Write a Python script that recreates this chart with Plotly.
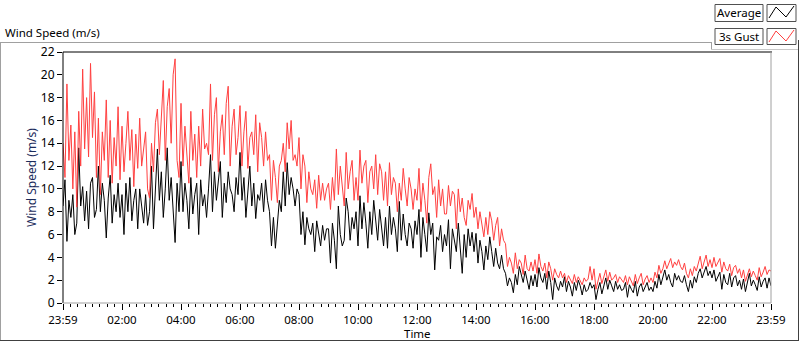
import plotly.graph_objects as go

# ---------------- data ----------------
minutes = list(range(0, 1441, 4))  # time since 23:59, one sample every 4 min
tick_minutes = [0, 120, 240, 360, 480, 600, 720, 840, 960, 1080, 1200, 1320, 1440]
tick_labels = ["23:59", "02:00", "04:00", "06:00", "08:00", "10:00", "12:00",
               "14:00", "16:00", "18:00", "20:00", "22:00", "23:59"]
minor_tick_minutes = list(range(0, 1441, 15))
y_ticks = [0, 2, 4, 6, 8, 10, 12, 14, 16, 18, 20, 22]

gust = [
    14.0, 11.0, 19.2, 12.5, 15.6, 10.0, 15.0, 8.4, 16.8, 12.0, 20.5, 13.5, 18.0, 12.8, 21.0,
    14.5, 18.5, 11.0, 16.2, 9.5, 15.0, 12.5, 17.8, 11.0, 16.0, 10.5, 14.5, 12.0, 17.2, 10.8,
    15.5, 11.5, 14.0, 16.8, 12.5, 15.2, 10.2, 14.8, 11.8, 16.2, 12.0, 13.5, 15.0, 10.0, 9.2,
    14.0, 11.5, 15.8, 17.0, 13.0, 16.0, 19.5, 12.5, 17.2, 18.8, 14.0, 20.0, 21.4, 12.5, 11.0,
    17.5, 12.0, 15.5, 13.0, 10.5, 16.8, 12.5, 14.8, 11.0, 15.5, 12.0, 17.0, 13.5, 14.0, 13.0,
    19.2, 12.5, 16.5, 18.0, 11.5, 15.0, 16.5, 13.0, 17.5, 19.0, 12.0, 15.5, 17.0, 13.0, 14.5,
    17.3, 12.0, 15.0, 16.8, 11.8, 14.5, 15.0, 13.0, 16.5, 11.5, 15.8, 14.5, 12.0, 15.0, 12.5,
    13.0, 9.0, 12.5, 11.0, 8.8, 12.0, 12.5, 14.0, 11.5, 15.8, 13.5, 16.0, 12.5, 13.0, 12.0,
    14.5, 10.0, 13.0, 12.0, 8.8, 11.5, 10.0, 9.5, 10.8, 8.3, 11.2, 9.0, 10.5, 9.0, 10.0,
    10.5, 8.2, 11.0, 9.0, 13.5, 9.5, 12.0, 10.5, 8.5, 13.2, 10.0, 11.5, 12.5, 9.0, 11.0,
    9.0, 13.4, 10.5, 12.0, 12.5, 8.8, 11.5, 12.0, 10.0, 13.0, 9.5, 12.2, 11.5, 9.0, 11.5,
    8.5, 12.3, 9.5, 11.0, 10.5, 8.0, 10.5, 9.0, 11.8, 10.0, 8.5, 11.0, 10.0, 8.2, 10.0,
    9.0, 11.8, 8.0, 10.5, 9.0, 7.0, 11.0, 12.2, 9.5, 10.2, 7.5, 10.8, 8.5, 10.0, 7.8,
    7.8, 10.3, 8.5, 9.8, 9.5, 6.5, 10.0, 8.0, 9.2, 7.5, 6.8, 9.0, 8.2, 9.6, 7.5,
    8.4, 6.5, 8.0, 7.0, 5.8, 7.5, 6.0, 8.0, 7.2, 5.5, 6.8, 7.5, 5.0, 6.5, 5.5,
    5.2, 3.2, 4.0, 3.5, 2.6, 4.4, 3.0, 3.8, 3.5, 2.5, 4.2, 3.0, 2.8, 3.6, 2.8,
    3.8, 2.6, 4.3, 3.2, 2.8, 3.5, 2.2, 3.6, 3.0, 2.0, 3.0, 2.5, 2.2, 2.8, 2.2,
    2.6, 1.8, 2.4, 2.1, 1.7, 2.5, 1.8, 2.3, 2.0, 1.6, 2.2, 1.9, 2.1, 3.2, 2.0,
    3.0, 1.2, 1.8, 2.6, 1.7, 2.3, 2.9, 1.9, 2.7, 2.0, 2.2, 2.5, 1.8, 2.3, 2.0,
    1.8, 2.4, 1.6, 2.3, 1.9, 1.5, 2.5, 1.7, 2.2, 2.6, 1.6, 2.1, 2.4, 1.8, 2.2,
    1.8, 2.7, 2.2, 3.3, 2.6, 3.0, 3.7, 3.0, 3.5, 3.9, 3.1, 3.6, 3.3, 3.8, 3.2,
    2.9, 3.5, 2.6, 2.2, 3.0, 2.4, 3.2, 2.8, 3.5, 4.1, 3.0, 3.6, 4.2, 3.2, 3.8,
    3.1, 4.0, 3.2, 3.6, 3.9, 2.7, 3.6, 3.0, 2.8, 3.4, 2.4, 3.1, 3.3, 2.6, 3.0,
    2.2, 2.9, 1.9, 2.5, 3.0, 2.3, 2.8, 2.4, 2.0, 3.1, 2.3, 2.7, 3.2, 2.5, 2.9,
    2.8,
]

average = [
    8.5, 10.8, 5.4, 9.0, 7.5, 9.5, 6.0, 7.0, 13.6, 8.5, 10.2, 7.2, 9.8, 6.5, 10.5,
    11.0, 7.5, 8.2, 12.0, 8.0, 10.5, 9.0, 5.7, 9.2, 11.2, 7.0, 9.5, 8.0, 10.5, 7.5,
    9.5, 6.0, 10.5, 8.0, 11.0, 7.2, 9.0, 10.0, 6.5, 10.0, 8.5, 7.0, 9.5, 6.8, 8.0,
    12.0, 6.5, 10.5, 13.5, 9.0, 11.5, 7.5, 10.0, 13.6, 9.0, 11.0, 8.0, 5.3, 10.5, 8.0,
    12.4, 8.0, 10.5, 9.0, 6.5, 11.0, 7.8, 9.5, 10.5, 6.0, 10.8, 8.5, 9.5, 7.5, 10.0,
    13.0, 8.0, 11.5, 9.0, 10.5, 12.4, 7.5, 10.5, 8.8, 11.5, 10.0, 9.5, 8.0, 11.0, 9.5,
    13.2, 9.0, 11.0, 7.5, 10.0, 12.0, 8.5, 10.5, 7.4, 9.5, 9.0, 10.5, 8.0, 10.8, 9.0,
    8.0, 5.0, 7.5, 4.8, 7.0, 9.0, 8.0, 11.5, 8.5, 12.3, 9.5, 11.0, 10.0, 8.5, 10.0,
    9.5, 6.0, 8.0, 5.1, 7.5, 6.5, 6.0, 7.0, 4.5, 7.2, 6.0, 5.0, 6.8, 5.5, 6.5,
    6.5, 3.5, 7.0, 5.5, 3.0, 8.5, 6.0, 5.0, 5.5, 9.2, 8.0, 5.5, 7.5, 6.5, 8.0,
    5.0, 9.4, 6.5, 8.8, 7.0, 4.8, 8.0, 6.0, 9.0, 7.0, 5.5, 8.2, 6.5, 5.0, 7.5,
    4.8, 8.5, 6.0, 7.5, 6.5, 4.5, 8.9, 5.5, 7.8, 6.0, 5.0, 7.0, 6.5, 4.8, 7.2,
    6.0, 8.2, 4.0, 7.5, 6.0, 4.5, 7.9, 6.0, 7.0, 2.9, 5.8, 5.5, 6.8, 4.5, 6.0,
    5.0, 7.3, 3.0, 6.5, 5.5, 4.5, 7.0, 5.0, 2.6, 6.0, 4.0, 6.5, 5.0, 6.2, 4.5,
    6.1, 3.5, 5.5, 4.5, 2.9, 5.0, 3.8, 5.8, 4.5, 3.2, 4.8, 3.5, 3.0, 4.2, 3.0,
    2.6, 1.5, 2.2, 1.8, 0.9, 2.5, 1.6, 3.2, 2.5, 1.8, 2.8, 2.0, 1.2, 2.4, 1.5,
    2.5, 1.4, 3.1, 2.2, 1.8, 2.6, 1.2, 2.8, 1.8, 0.3, 2.2, 1.5, 1.1, 1.9, 1.4,
    2.3, 1.0, 1.9, 1.4, 0.6, 1.8, 1.1, 2.0, 1.5, 0.7, 1.6, 1.0, 1.2, 1.8, 1.3,
    1.6, 0.3, 1.2, 1.8, 0.8, 1.4, 2.2, 1.2, 2.0, 1.5, 1.0, 1.9, 1.2, 1.6, 1.1,
    1.2, 1.8, 0.5, 1.6, 1.2, 0.9, 1.9, 0.6, 1.4, 1.7, 1.0, 1.5, 1.8, 1.1, 1.4,
    1.0, 1.9, 1.3, 2.5, 1.6, 2.2, 2.9, 2.0, 2.5, 1.8, 1.4, 2.6, 2.0, 2.4, 1.9,
    1.8, 2.4, 1.6, 1.0, 2.0, 1.3, 2.3, 1.8, 2.6, 3.0, 2.2, 2.7, 3.2, 2.4, 2.8,
    2.2, 2.9, 1.9, 2.4, 2.7, 1.2, 2.5, 1.8, 1.6, 2.6, 1.4, 2.2, 2.4, 1.5, 2.0,
    1.2, 2.1, 1.0, 1.8, 2.6, 1.5, 2.0, 1.6, 1.1, 2.3, 1.4, 1.9, 2.2, 1.3, 2.2,
    1.5,
]

# ---------------- layout helpers (pixel -> paper) ----------------
W, H = 800, 342
PL, PR, PT, PB = 63, 771, 52, 303


def xp(px):
    return (px - PL) / (PR - PL)


def yp(py):
    return (PB - py) / (PB - PT)


FONT = "Noto Sans, Open Sans, DejaVu Sans, sans-serif"

fig = go.Figure()
fig.add_trace(go.Scatter(x=minutes, y=average, mode="lines", name="Average",
                         line=dict(color="#000000", width=1), showlegend=False))
fig.add_trace(go.Scatter(x=minutes, y=gust, mode="lines", name="3s Gust",
                         line=dict(color="#FF4040", width=1), showlegend=False))

shapes = []


def line(x0, y0, x1, y1, color, width=1):
    shapes.append(dict(type="line", xref="paper", yref="paper",
                       x0=xp(x0), y0=yp(y0), x1=xp(x1), y1=yp(y1),
                       line=dict(color=color, width=width), layer="above"))


def rect(x0, y0, x1, y1, color, fill="#FFFFFF"):
    shapes.append(dict(type="rect", xref="paper", yref="paper",
                       x0=xp(x0), y0=yp(y0), x1=xp(x1), y1=yp(y1),
                       line=dict(color=color, width=1), fillcolor=fill, layer="above"))


# outer panel frame
line(0, 42.5, 711, 42.5, "#A0A0A0")
line(0.5, 42, 0.5, 341, "#A0A0A0")
line(0, 340.5, 799, 340.5, "#404040")
line(798.5, 40, 798.5, 341, "#404040")
line(711.5, 42, 711.5, 49, "#A0A0A0")
line(711, 49.5, 798, 49.5, "#C8C8C8")

# plot frame
line(PL, PT, PR + 1, PT, "#000000")
line(PL, PT, PL, PB, "#000000")
line(PR, PT, PR, PB, "#A0A0A0")
line(PL, PB, PR, PB, "#A0A0A0")

# legend boxes
rect(715, 4.5, 763, 21.5, "#505050")
rect(767, 4.5, 796, 21.5, "#505050")
rect(715, 28.5, 763, 44.5, "#505050")
rect(767, 28.5, 796, 44.5, "#505050")


def zigzag(y_top, color):
    pts = [(769, y_top + 14), (776, y_top + 3), (786, y_top + 13), (794, y_top + 2)]
    path = "M " + " L ".join(f"{xp(a):.5f},{yp(b):.5f}" for a, b in pts)
    shapes.append(dict(type="path", xref="paper", yref="paper", path=path,
                       line=dict(color=color, width=1), layer="above"))


zigzag(4, "#000000")
zigzag(28, "#FF4040")

annotations = [
    dict(text="Wind Speed (m/s)", xref="paper", yref="paper", x=xp(3), y=yp(32),
         xanchor="left", yanchor="middle", showarrow=False,
         font=dict(family=FONT, size=11.5, color="#000000")),
    dict(text="Average", xref="paper", yref="paper", x=xp(739), y=yp(13),
         xanchor="center", yanchor="middle", showarrow=False,
         font=dict(family=FONT, size=11.5, color="#000000")),
    dict(text="3s Gust", xref="paper", yref="paper", x=xp(739), y=yp(36.5),
         xanchor="center", yanchor="middle", showarrow=False,
         font=dict(family=FONT, size=11.5, color="#000000")),
    dict(text="Time", xref="paper", yref="paper", x=0.5, y=yp(333.5),
         xanchor="center", yanchor="middle", showarrow=False, borderpad=0,
         font=dict(family=FONT, size=11.5, color="#000000")),
]

fig.update_layout(
    width=W, height=H,
    margin=dict(l=PL, r=W - PR, t=PT, b=H - PB, pad=0, autoexpand=False),
    paper_bgcolor="#FFFFFF", plot_bgcolor="#FFFFFF",
    font=dict(family=FONT, size=12, color="#000000"),
    showlegend=False,
    shapes=shapes,
    annotations=annotations,
    xaxis=dict(
        range=[0, 1440], tickmode="array", tickvals=tick_minutes, ticktext=tick_labels,
        ticks="outside", ticklen=6, tickwidth=1, tickcolor="#000000",
        showgrid=False, zeroline=False, showline=False, automargin=False,
        tickfont=dict(family=FONT, size=11.5, color="#000000"),
        minor=dict(tickmode="array", tickvals=minor_tick_minutes, ticks="outside",
                   ticklen=3, tickwidth=1, tickcolor="#000000", showgrid=False),
    ),
    yaxis=dict(
        range=[0, 22], tickmode="array", tickvals=y_ticks,
        ticks="outside", ticklen=5, tickwidth=1, tickcolor="#000000",
        showgrid=False, zeroline=False, showline=False, automargin=False,
        tickfont=dict(family=FONT, size=12, color="#000000"),
        title=dict(text="Wind Speed (m/s)", standoff=1,
                   font=dict(family=FONT, size=12, color="#1C2C5C")),
    ),
)

fig.write_html(
    "out.html",
    config={"displayModeBar": False},
    post_script="document.body.style.margin='0';document.body.style.overflow='hidden';",
)
